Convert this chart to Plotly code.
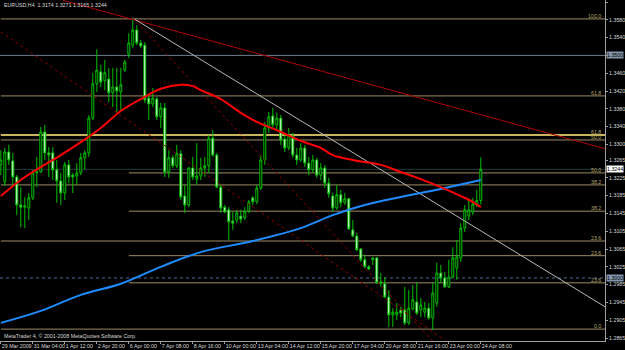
import plotly.graph_objects as go

# ---------------- data (EURUSD H4) ----------------
bars = list(range(121))
open_ = [1.3254,1.3216,1.3283,1.3263,1.3227,1.3164,1.3159,1.3157,1.3180,1.3236,
         1.3238,1.3328,1.3281,1.3281,1.3243,1.3218,1.3191,1.3254,1.3231,1.3229,
         1.3236,1.3270,1.3281,1.3359,1.3436,1.3463,1.3443,1.3447,1.3416,1.3429,
         1.3418,1.3467,1.3503,1.3523,1.3557,1.3528,1.3523,1.3404,1.3391,1.3402,
         1.3362,1.3382,1.3238,1.3270,1.3252,1.3279,1.3184,1.3164,1.3247,1.3222,
         1.3229,1.3247,1.3252,1.3314,1.3276,1.3204,1.3159,1.3153,1.3128,1.3130,
         1.3139,1.3135,1.3150,1.3180,1.3171,1.3202,1.3265,1.3337,1.3364,1.3344,
         1.3359,1.3312,1.3292,1.3319,1.3276,1.3265,1.3292,1.3258,1.3243,1.3265,
         1.3231,1.3247,1.3213,1.3184,1.3157,1.3187,1.3169,1.3178,1.3108,1.3094,
         1.3065,1.3041,1.3025,1.3041,1.3045,1.2991,1.2987,1.2957,1.2917,1.2917,
         1.2928,1.2928,1.2899,1.2930,1.2946,1.2928,1.2923,1.2932,1.2910,1.2944,
         1.3011,1.3000,1.2980,1.3002,1.3022,1.3045,1.3112,1.3139,1.3148,1.3164,
         1.3174]
high = [1.3287,1.3292,1.3299,1.3281,1.3231,1.3204,1.3182,1.3191,1.3243,1.3272,
        1.3339,1.3344,1.3294,1.3294,1.3265,1.3236,1.3261,1.3265,1.3236,1.3258,
        1.3281,1.3287,1.3366,1.3461,1.3514,1.3479,1.3490,1.3472,1.3472,1.3472,
        1.3472,1.3490,1.3550,1.3584,1.3568,1.3535,1.3530,1.3411,1.3427,1.3407,
        1.3393,1.3393,1.3287,1.3276,1.3299,1.3287,1.3209,1.3249,1.3272,1.3303,
        1.3270,1.3272,1.3321,1.3332,1.3281,1.3209,1.3164,1.3159,1.3148,1.3153,
        1.3153,1.3159,1.3175,1.3184,1.3209,1.3276,1.3350,1.3373,1.3382,1.3371,
        1.3366,1.3321,1.3337,1.3326,1.3292,1.3303,1.3299,1.3272,1.3276,1.3270,
        1.3258,1.3254,1.3225,1.3191,1.3209,1.3198,1.3191,1.3180,1.3130,1.3101,
        1.3067,1.3052,1.3029,1.3047,1.3047,1.3011,1.3002,1.2973,1.2932,1.2944,
        1.2935,1.2980,1.2973,1.2984,1.2991,1.2955,1.2946,1.2944,1.2989,1.3034,
        1.3029,1.3013,1.3041,1.3069,1.3085,1.3123,1.3164,1.3175,1.3180,1.3198,
        1.3271]
low = [1.3231,1.3207,1.3254,1.3204,1.3141,1.3114,1.3112,1.3130,1.3175,1.3204,
       1.3236,1.3265,1.3227,1.3220,1.3169,1.3164,1.3175,1.3213,1.3191,1.3209,
       1.3231,1.3243,1.3272,1.3355,1.3418,1.3429,1.3422,1.3395,1.3384,1.3371,
       1.3377,1.3463,1.3494,1.3517,1.3523,1.3517,1.3393,1.3355,1.3384,1.3355,
       1.3337,1.3227,1.3225,1.3247,1.3247,1.3175,1.3146,1.3159,1.3220,1.3209,
       1.3220,1.3227,1.3236,1.3272,1.3202,1.3146,1.3146,1.3085,1.3108,1.3123,
       1.3123,1.3130,1.3146,1.3164,1.3166,1.3198,1.3254,1.3326,1.3337,1.3332,
       1.3299,1.3283,1.3287,1.3270,1.3254,1.3261,1.3249,1.3231,1.3236,1.3225,
       1.3220,1.3202,1.3180,1.3148,1.3153,1.3159,1.3164,1.3108,1.3092,1.3061,
       1.3036,1.3022,1.3018,1.3029,1.2987,1.2980,1.2955,1.2890,1.2890,1.2906,
       1.2912,1.2894,1.2894,1.2928,1.2917,1.2912,1.2912,1.2906,1.2883,1.2935,
       1.2989,1.2977,1.2977,1.3000,1.2996,1.3036,1.3103,1.3130,1.3141,1.3159,
       1.3165]
close = [1.3265,1.3283,1.3265,1.3227,1.3164,1.3159,1.3162,1.3180,1.3236,1.3238,
         1.3328,1.3281,1.3276,1.3243,1.3218,1.3191,1.3254,1.3227,1.3227,1.3236,
         1.3270,1.3281,1.3359,1.3436,1.3467,1.3440,1.3461,1.3416,1.3429,1.3420,
         1.3434,1.3485,1.3528,1.3557,1.3528,1.3521,1.3400,1.3391,1.3404,1.3362,
         1.3382,1.3238,1.3270,1.3252,1.3279,1.3182,1.3164,1.3247,1.3227,1.3229,
         1.3247,1.3252,1.3314,1.3276,1.3204,1.3157,1.3148,1.3126,1.3123,1.3146,
         1.3132,1.3150,1.3171,1.3171,1.3202,1.3265,1.3337,1.3362,1.3344,1.3359,
         1.3310,1.3292,1.3321,1.3276,1.3265,1.3292,1.3258,1.3243,1.3265,1.3231,
         1.3247,1.3213,1.3189,1.3157,1.3187,1.3169,1.3178,1.3110,1.3094,1.3063,
         1.3041,1.3025,1.3020,1.3045,1.2989,1.2989,1.2957,1.2917,1.2923,1.2923,
         1.2921,1.2899,1.2932,1.2951,1.2921,1.2939,1.2932,1.2910,1.2966,1.3011,
         1.3000,1.2980,1.3002,1.3045,1.3047,1.3112,1.3153,1.3153,1.3166,1.3174,
         1.3244]

tick_bars = [0, 8, 16, 24, 32, 40, 48, 56, 64, 72, 80, 88, 96, 104, 112, 120]
tick_labels = ["29 Mar 2009", "31 Mar 04:00", "1 Apr 12:00", "2 Apr 20:00",
               "6 Apr 00:00", "7 Apr 08:00", "8 Apr 16:00", "10 Apr 00:00",
               "13 Apr 04:00", "14 Apr 12:00", "15 Apr 20:00", "17 Apr 04:00",
               "20 Apr 08:00", "21 Apr 16:00", "23 Apr 00:00", "24 Apr 08:00"]
price_ticks = [1.3620, 1.3580, 1.3540, 1.3500, 1.3460, 1.3420, 1.3380, 1.3340,
               1.3300, 1.3265, 1.3225, 1.3185, 1.3145, 1.3105, 1.3065, 1.3025,
               1.2985, 1.2945, 1.2905, 1.2865]

ma_red_bars = [0, 5, 10, 15, 20, 25, 30, 35, 40, 45, 48, 50, 55, 60, 63, 70, 75,
               80, 83, 88, 95, 100, 105, 110, 115, 118, 120]
ma_red_vals = [1.3184, 1.3220, 1.3249, 1.3276, 1.3305, 1.3337, 1.3375, 1.3402,
               1.3425, 1.3434, 1.3431, 1.3422, 1.3402, 1.3371, 1.3355, 1.3328,
               1.3308, 1.3292, 1.3276, 1.3265, 1.3254, 1.3238, 1.3222, 1.3204,
               1.3184, 1.3171, 1.3159]
ma_blue_bars = [0, 10, 20, 30, 40, 50, 63, 75, 83, 91, 100, 110, 120]
ma_blue_vals = [1.2899, 1.2926, 1.2962, 1.2987, 1.3025, 1.3058, 1.3083, 1.3112,
                1.3141, 1.3164, 1.3182, 1.3200, 1.3220]

fib_prices = [1.3582, 1.3409, 1.3321, 1.3310, 1.3236, 1.3209, 1.3150, 1.3083,
              1.3050, 1.2989, 1.2885]
fib_labels = ["100.0", "61.8", "61.8", "50.0", "50.0", "38.2", "38.2", "23.6",
              "23.6", "23.6", "0.0"]
fib_start = [0, 0, 0, 0, 32, 0, 32, 0, 32, 32, 0]

level_round_hi = 1.3500
level_bid = 1.3244
level_round_lo = 1.3000

trend_red = ([15.5, 152.0], [1.3624, 1.3288])
trend_gray = ([33, 152.0], [1.3584, 1.2930])
chan_a = ([33, 108.0], [1.3584, 1.2858])
chan_b = ([0, 111.0], [1.3553, 1.2860])

# ---------------- figure ----------------
GREEN = "#00c000"
FIB = "#9c8c62"
TXT = "#d8d8d8"
FONT = "Liberation Sans, Arial"
FS = 5.3
XR = [-0.2, 151.05]
YR = [1.28583, 1.36245]

fig = go.Figure()

shapes = []
for p, s in zip(fib_prices, fib_start):
    bright = (p == 1.3321)
    shapes.append(dict(type="line", xref="x", yref="y", x0=s, x1=XR[1], y0=p, y1=p,
                       line=dict(color="#c8b45a" if bright else FIB, width=2 if bright else 1),
                       layer="below"))
shapes.append(dict(type="line", xref="paper", yref="y", x0=0, x1=1, y0=level_round_hi,
                   y1=level_round_hi, line=dict(color="#6c7c8c", width=1), layer="below"))
shapes.append(dict(type="line", xref="paper", yref="y", x0=0, x1=1, y0=level_bid,
                   y1=level_bid, line=dict(color="#1f3a3a", width=1), layer="below"))
shapes.append(dict(type="line", xref="paper", yref="y", x0=0, x1=1, y0=level_round_lo,
                   y1=level_round_lo, line=dict(color="#4a6a9a", width=1, dash="dot"),
                   layer="below"))

fig.add_trace(go.Candlestick(
    x=bars, open=open_, high=high, low=low, close=close,
    increasing=dict(line=dict(color=GREEN, width=1), fillcolor="black"),
    decreasing=dict(line=dict(color=GREEN, width=1), fillcolor="white"),
    whiskerwidth=0, hoverinfo="skip", showlegend=False))

for (xs, ys), col, dash in [(trend_red, "#b00000", "solid"),
                            (trend_gray, "#b8b8b8", "solid"),
                            (chan_a, "#8b0000", "dot"),
                            (chan_b, "#8b0000", "dot")]:
    fig.add_trace(go.Scatter(x=xs, y=ys, mode="lines", line=dict(color=col, width=1, dash=dash),
                             hoverinfo="skip", showlegend=False, cliponaxis=True))

fig.add_trace(go.Scatter(x=ma_blue_bars, y=ma_blue_vals, mode="lines",
                         line=dict(color="#1e8cff", width=2, shape="spline"),
                         hoverinfo="skip", showlegend=False))
fig.add_trace(go.Scatter(x=ma_red_bars, y=ma_red_vals, mode="lines",
                         line=dict(color="#ff0000", width=2, shape="spline"),
                         hoverinfo="skip", showlegend=False))

ann = []
for p, t in zip(fib_prices, fib_labels):
    ann.append(dict(xref="paper", yref="y", x=1, y=p, xanchor="right", yanchor="bottom",
                    xshift=-2, yshift=-2, text=t, showarrow=False,
                    font=dict(family=FONT, size=FS, color="#b4a46a")))
for p, bg in [(level_round_hi, "#8496a8"), (level_bid, "#ffffff"), (level_round_lo, "#8496b0")]:
    ann.append(dict(xref="paper", yref="y", x=1, y=p, xanchor="left", yanchor="middle",
                    xshift=1, text=f"{p:.4f}", showarrow=False, bgcolor=bg, borderpad=0,
                    font=dict(family=FONT, size=FS, color="black")))
title = f"EURUSD,H4  {open_[-1]:.4f} {high[-1]:.4f} {low[-1]:.4f} {close[-1]:.4f}"
ann.append(dict(xref="paper", yref="paper", x=0, y=1, xanchor="left", yanchor="top",
                xshift=2, yshift=0, text=title, showarrow=False,
                font=dict(family=FONT, size=FS, color=TXT)))
ann.append(dict(xref="paper", yref="paper", x=0, y=0, xanchor="left", yanchor="bottom",
                xshift=2, yshift=0, text="MetaTrader 4, © 2001-2008 MetaQuotes Software Corp.",
                showarrow=False, font=dict(family=FONT, size=FS, color=TXT)))

# the highlighted 1.3500 marker replaces that axis label
ytext = ["" if v == level_round_hi else f"{v:.4f}" for v in price_ticks]

fig.update_layout(
    width=625, height=350, margin=dict(l=0, r=20, t=0, b=9, autoexpand=False),
    paper_bgcolor="black", plot_bgcolor="black",
    shapes=shapes, annotations=ann, showlegend=False,
    xaxis=dict(range=XR, rangeslider=dict(visible=False), showgrid=False, zeroline=False,
               tickvals=tick_bars, ticktext=tick_labels, ticks="outside", ticklen=2,
               tickcolor="#a0a0a0", ticklabelposition="outside right", tickangle=0,
               automargin=False,
               tickfont=dict(family=FONT, size=FS, color=TXT),
               showline=True, linecolor="#a0a0a0", linewidth=1, fixedrange=True),
    yaxis=dict(range=YR, side="right", showgrid=False, zeroline=False,
               tickvals=price_ticks, ticktext=ytext, automargin=False,
               ticks="outside", ticklen=2, tickcolor="#a0a0a0",
               tickfont=dict(family=FONT, size=FS, color=TXT),
               showline=True, linecolor="#a0a0a0", linewidth=1, fixedrange=True),
)

fig.write_html("out.html")
